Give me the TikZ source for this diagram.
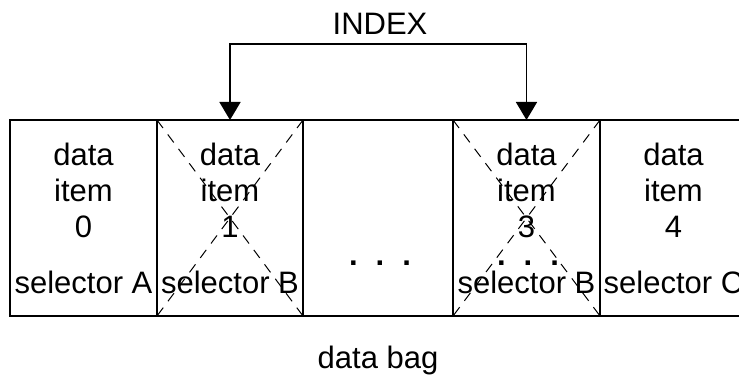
\documentclass[tikz,border=0pt]{standalone}
\usepackage{fontspec}
\setmainfont{Liberation Sans}
\usetikzlibrary{arrows.meta}
\begin{document}
\begin{tikzpicture}[x=1pt,y=-1pt,
  cell/.style={draw,line width=1.8pt,minimum width=147pt,minimum height=196pt,inner sep=0pt,outer sep=0pt},
  txt/.style={font=\fontsize{31}{36}\selectfont,anchor=base,inner sep=0pt},
  cross/.style={line width=1pt,dash pattern=on 10pt off 8pt},
  link/.style={line width=1.8pt,{Triangle[width=21pt,length=18pt]}-{Triangle[width=21pt,length=18pt]}}]
\useasboundingbox (0,0) rectangle (739,377);
\clip (0,0) rectangle (739,377);
\node[cell] (b0) at (83.5,218) {};
\node[cell,minimum width=146pt] (b1) at (230,218) {};
\node[cell,minimum width=150pt] (b2) at (378,218) {};
\node[cell] (b3) at (526.5,218) {};
\node[cell] (b4) at (673.5,218) {};
\draw[cross] (b1.north west) -- (b1.south east);
\draw[cross] (b1.north east) -- (b1.south west);
\draw[cross] (b3.north west) -- (b3.south east);
\draw[cross] (b3.north east) -- (b3.south west);
\foreach \n/\x/\num/\sel in {0/83.5/0/A,1/230/1/B,3/526.5/3/B,4/673.5/4/C}{
  \node[txt] (d\n) at (\x,165) {data};
  \node[txt] (i\n) at (\x,201) {item};
  \node[txt] (n\n) at (\x,237) {\num};
  \node[txt] (s\n) at (\x,293) {selector \sel};
}
\node[txt] (dots2) at (380,265) {\textbf{.}\hspace{18pt}\textbf{.}\hspace{18pt}\textbf{.}};
\node[txt] (dots3) at (528,265) {\textbf{.}\hspace{18pt}\textbf{.}\hspace{18pt}\textbf{.}};
\node[txt] (index) at (380,35) {INDEX};
\node[txt] (bag) at (378,368) {data bag};
\coordinate (j) at (380,44);
\draw[link] (b1.north) |- (j) -| (b3.north);
\end{tikzpicture}
\end{document}
